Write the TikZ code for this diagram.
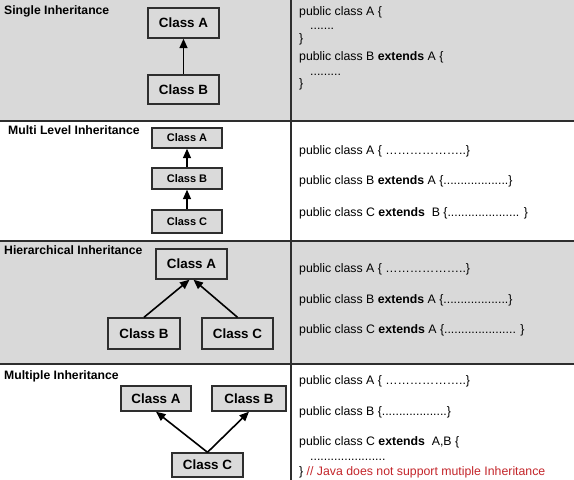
\documentclass[tikz,border=0pt]{standalone}
\usepackage{fontspec}
\setmainfont{Liberation Sans}
\usetikzlibrary{arrows.meta}
\definecolor{bandgray}{HTML}{D9D9D9}
\definecolor{boxgray}{HTML}{DADADA}
\definecolor{linedark}{HTML}{2E2E2E}
\definecolor{javared}{HTML}{C4262B}
\tikzset{
  cls/.style={draw=linedark, line width=1.4pt, fill=boxgray, inner sep=0pt,
    font=\fontsize{13.4}{15}\selectfont\bfseries},
  clssmall/.style={cls, font=\fontsize{11}{13}\selectfont\bfseries},
  inh/.style={line width=1.6pt, draw=black, -{Triangle[length=9.5pt,width=8pt]}},
  title/.style={anchor=base west, inner sep=0pt, font=\fontsize{12.2}{14}\selectfont\bfseries},
  code/.style={anchor=base west, inner sep=0pt, font=\fontsize{12.3}{14}\selectfont},
  sep/.style={draw=linedark, line width=1.6pt}
}
\begin{document}
\begin{tikzpicture}[x=1pt,y=-1pt]
\useasboundingbox (0,0) rectangle (574,480);
% bands
\fill[bandgray] (0,0) rectangle (574,121);
\fill[white] (0,121) rectangle (574,241);
\fill[bandgray] (0,241) rectangle (574,364);
\fill[white] (0,364) rectangle (574,480);
\coordinate (h1l) at (0,121); \coordinate (h1r) at (574,121);
\coordinate (h2l) at (0,241); \coordinate (h2r) at (574,241);
\coordinate (h3l) at (0,364); \coordinate (h3r) at (574,364);
\coordinate (vt) at (291,0); \coordinate (vb) at (291,480);
\draw[sep] (h1l) -- (h1r);
\draw[sep] (h2l) -- (h2r);
\draw[sep] (h3l) -- (h3r);
\draw[sep] (vt) -- (vb);

% titles
\node[title] (t1) at (4,14) {Single Inheritance};
\node[title] (t2) at (8,134) {Multi Level Inheritance};
\node[title] (t3) at (4,254) {Hierarchical Inheritance};
\node[title] (t4) at (4,379) {Multiple Inheritance};

% single
\node[cls, minimum width=71pt, minimum height=30pt] (sA) at (183.5,23) {Class A};
\node[cls, minimum width=71pt, minimum height=29pt] (sB) at (183.5,89.5) {Class B};
\draw[inh] (sB) -- (sA);

% multi level
\node[clssmall, minimum width=70pt, minimum height=20pt] (mA) at (187,138) {Class A};
\node[clssmall, minimum width=70pt, minimum height=21pt] (mB) at (187,178.5) {Class B};
\node[clssmall, minimum width=70pt, minimum height=23pt] (mC) at (187,221.5) {Class C};
\draw[inh] (mB) -- (mA);
\draw[inh] (mC) -- (mB);

% hierarchical
\node[cls, minimum width=71pt, minimum height=30pt] (hA) at (191.5,264) {Class A};
\node[cls, minimum width=72pt, minimum height=31pt] (hB) at (144,333.5) {Class B};
\node[cls, minimum width=71pt, minimum height=31pt] (hC) at (237.5,333.5) {Class C};
\draw[inh] (hB.north) -- ([xshift=-2pt]hA.south);
\draw[inh] (hC.north) -- ([xshift=2pt]hA.south);

% multiple
\node[cls, minimum width=70pt, minimum height=25pt] (pA) at (156,398.5) {Class A};
\node[cls, minimum width=74pt, minimum height=25pt] (pB) at (249,398.5) {Class B};
\node[cls, minimum width=71pt, minimum height=24pt] (pC) at (207.5,465) {Class C};
\draw[inh] (pC.north) -- (pA.south);
\draw[inh] (pC.north) -- (pB.south);

% code: single
\node[code] (c11) at (299,15) {public class A \{};
\node[code] (c12) at (310,29) {.......};
\node[code] (c13) at (299,42.5) {\}};
\node[code] (c14) at (299,60) {public class B \textbf{extends} A \{};
\node[code] (c15) at (310,75) {.........};
\node[code] (c16) at (299,87) {\}};

% code: multi level
\node[code] (c21) at (299,154.5) {public class A \{ ………………..\}};
\node[code] (c22) at (299,184.5) {public class B \textbf{extends} A \{...................\}};
\node[code] (c23) at (299,216.5) {public class C \textbf{extends}\ \ B \{..................... \}};

% code: hierarchical
\node[code] (c31) at (299,272.5) {public class A \{ ………………..\}};
\node[code] (c32) at (299,303.5) {public class B \textbf{extends} A \{...................\}};
\node[code] (c33) at (299,333.5) {public class C \textbf{extends} A \{..................... \}};

% code: multiple
\node[code] (c41) at (299,384.5) {public class A \{ ………………..\}};
\node[code] (c42) at (299,415) {public class B \{...................\}};
\node[code] (c43) at (299,445) {public class C \textbf{extends}\ \ A,B \{};
\node[code] (c44) at (310,460) {......................};
\node[code] (c45) at (299,475) {\} \textcolor{javared}{// Java does not support mutiple Inheritance}};
\end{tikzpicture}
\end{document}
